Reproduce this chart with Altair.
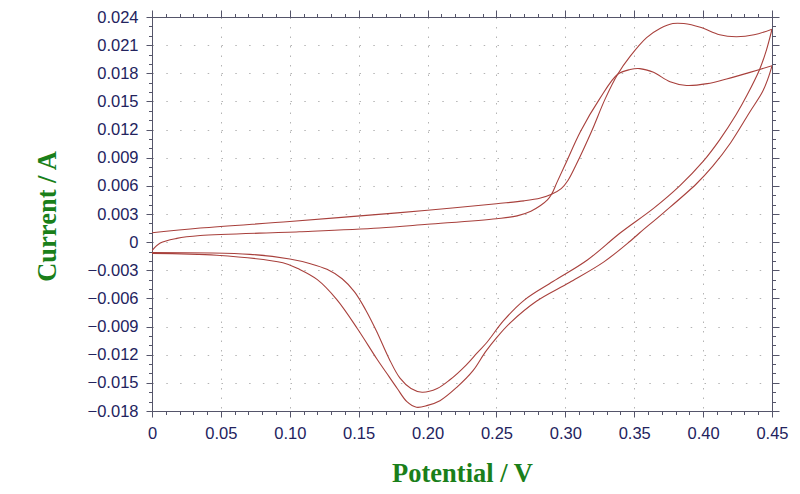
import altair as alt
import pandas as pd

# ---- data (potential in V, current in A) ----
c1_fwd_v = [0.000, 0.035, 0.100, 0.151, 0.200, 0.250, 0.270, 0.282, 0.290, 0.297, 0.302, 0.308, 0.319, 0.329,
            0.338, 0.347, 0.359, 0.369, 0.378, 0.386, 0.398, 0.412, 0.424, 0.437, 0.450]
c1_fwd_a = [0.0010, 0.0015, 0.0022, 0.0028, 0.0034, 0.0041, 0.0044, 0.0047, 0.0051, 0.0057, 0.0066, 0.0083, 0.0118, 0.0153,
            0.0179, 0.0198, 0.0218, 0.0228, 0.0233, 0.0233, 0.0229, 0.0221, 0.0219, 0.0221, 0.0227]
c1_rev_v = [0.450, 0.446, 0.441, 0.432, 0.424, 0.412, 0.400, 0.383, 0.364, 0.340, 0.316, 0.291, 0.270,
            0.255, 0.243, 0.236, 0.228, 0.216, 0.207, 0.196, 0.188, 0.180, 0.172, 0.163, 0.155, 0.147,
            0.138, 0.127, 0.115, 0.100, 0.071, 0.000]
c1_rev_a = [0.0227, 0.0205, 0.0184, 0.0157, 0.0136, 0.0109, 0.0086, 0.0060, 0.0036, 0.0010, -0.0019, -0.0042, -0.0062,
            -0.0084, -0.0107, -0.0118, -0.0131, -0.0147, -0.0156, -0.0160, -0.0156, -0.0145, -0.0124, -0.0095, -0.0072, -0.0053,
            -0.0039, -0.0029, -0.0023, -0.0018, -0.0013, -0.0011]
c2_fwd_v = [0.000, 0.006, 0.018, 0.035, 0.107, 0.165, 0.200, 0.250, 0.265, 0.275, 0.282, 0.287, 0.290, 0.294, 0.300,
            0.311, 0.325, 0.338, 0.347, 0.354, 0.364, 0.376, 0.388, 0.403, 0.417, 0.434, 0.450]
c2_fwd_a = [-0.0009, -0.0001, 0.0004, 0.0007, 0.0011, 0.0015, 0.0019, 0.0025, 0.0028, 0.0033, 0.0039, 0.0045, 0.0051, 0.0064, 0.0083,
            0.0118, 0.0153, 0.0179, 0.0184, 0.0185, 0.0181, 0.0171, 0.0167, 0.0169, 0.0174, 0.0181, 0.0188]
c2_rev_v = [0.450, 0.447, 0.443, 0.434, 0.420, 0.407, 0.395, 0.371, 0.354, 0.347, 0.328, 0.303, 0.279,
            0.260, 0.250, 0.242, 0.233, 0.221, 0.209, 0.200, 0.192, 0.185, 0.178, 0.170, 0.163, 0.149,
            0.134, 0.120, 0.107, 0.095, 0.047, 0.000]
c2_rev_a = [0.0188, 0.0174, 0.0160, 0.0139, 0.0106, 0.0081, 0.0062, 0.0031, 0.0010, 0.0001, -0.0021, -0.0043, -0.0063,
            -0.0086, -0.0102, -0.0117, -0.0137, -0.0155, -0.0169, -0.0174, -0.0176, -0.0170, -0.0156, -0.0139, -0.0124, -0.0092,
            -0.0061, -0.0040, -0.0029, -0.0022, -0.0014, -0.0012]

x_major = [0, 0.05, 0.10, 0.15, 0.20, 0.25, 0.30, 0.35, 0.40, 0.45]
y_major = [-0.018, -0.015, -0.012, -0.009, -0.006, -0.003, 0, 0.003, 0.006, 0.009,
           0.012, 0.015, 0.018, 0.021, 0.024]
x_minor = [round(i * 0.01, 2) for i in range(46)]
y_minor = [round(i * 0.001, 3) for i in range(-18, 25)]

rows = []
for name, vs, cs in [("c1f", c1_fwd_v, c1_fwd_a), ("c1r", c1_rev_v, c1_rev_a),
                     ("c2f", c2_fwd_v, c2_fwd_a), ("c2r", c2_rev_v, c2_rev_a)]:
    for i, (v, c) in enumerate(zip(vs, cs)):
        rows.append({"series": name, "i": i, "V": v, "A": c})
df = pd.DataFrame(rows)

RED = "#a8403c"
GREEN = "#1a7f1a"
AXC = "#55556a"
LAB = "#23235e"
GRID = "#b4b4b4"

xs = alt.Scale(domain=[0, 0.45], nice=False, zero=False)
ys = alt.Scale(domain=[-0.018, 0.024], nice=False, zero=False)

ax_bottom = alt.Axis(orient="bottom", values=x_major,
                     labelExpr="datum.value == 0 ? '0' : format(datum.value, '.2f')",
                     grid=True, gridDash=[1.5, 8], gridColor=GRID, gridWidth=1,
                     tickSize=6, tickColor=AXC, domainColor=AXC,
                     labelFont="Liberation Sans", labelFontSize=16.5, labelColor=LAB,
                     labelPadding=8, labelFlush=False, labelOverlap=False,
                     title="Potential / V", titleFont="Liberation Serif", titleFontSize=26.5,
                     titleFontWeight="bold", titleColor=GREEN, titleY=70,
                     titleBaseline="alphabetic")
ax_left = alt.Axis(orient="left", values=y_major,
                   labelExpr="datum.value == 0 ? '0' : format(datum.value, '.3f')",
                   grid=True, gridDash=[1.5, 12.3], gridColor=GRID, gridWidth=1,
                   tickSize=6, tickColor=AXC, domainColor=AXC,
                   labelFont="Liberation Sans", labelFontSize=16.5, labelColor=LAB,
                   labelPadding=8, labelFlush=False, labelOverlap=False,
                   title="Current / A", titleFont="Liberation Serif", titleFontSize=26.5,
                   titleFontWeight="bold", titleColor=GREEN, titleX=-97, titleY=199,
                   titleAngle=270, titleAlign="center", titleBaseline="alphabetic")

curves = alt.Chart(df).mark_line(color=RED, strokeWidth=1.1, interpolate="catmull-rom", clip=True).encode(
    x=alt.X("V:Q", scale=xs, axis=ax_bottom),
    y=alt.Y("A:Q", scale=ys, axis=ax_left),
    detail="series:N",
    order="i:Q",
)


def frame_layer(orient_x, orient_y, xv, yv, size, domain):
    return alt.Chart(df).mark_line(opacity=0).encode(
        x=alt.X("V:Q", scale=xs, axis=alt.Axis(orient=orient_x, values=xv, labels=False, grid=False,
                                               tickSize=size, tickColor=AXC, domain=domain,
                                               domainColor=AXC, title="")),
        y=alt.Y("A:Q", scale=ys, axis=alt.Axis(orient=orient_y, values=yv, labels=False, grid=False,
                                               tickSize=size, tickColor=AXC, domain=domain,
                                               domainColor=AXC, title="")),
        detail="series:N",
        order="i:Q",
    )


top_right_major = frame_layer("top", "right", x_major, y_major, 7, True)
bottom_left_minor = frame_layer("bottom", "left", x_minor, y_minor, 3.5, False)
top_right_minor = frame_layer("top", "right", x_minor, y_minor, 3.5, False)

chart = alt.layer(curves, top_right_major, bottom_left_minor, top_right_minor).resolve_scale(
    x="independent", y="independent"
).properties(
    width=620, height=394,
    autosize=alt.AutoSizeParams(type="none"),
    padding={"left": 144, "top": 9, "right": 20, "bottom": 75},
    background="white",
).configure_view(strokeWidth=0)

chart.save("out.html", embed_options={"renderer": "svg", "actions": False})
